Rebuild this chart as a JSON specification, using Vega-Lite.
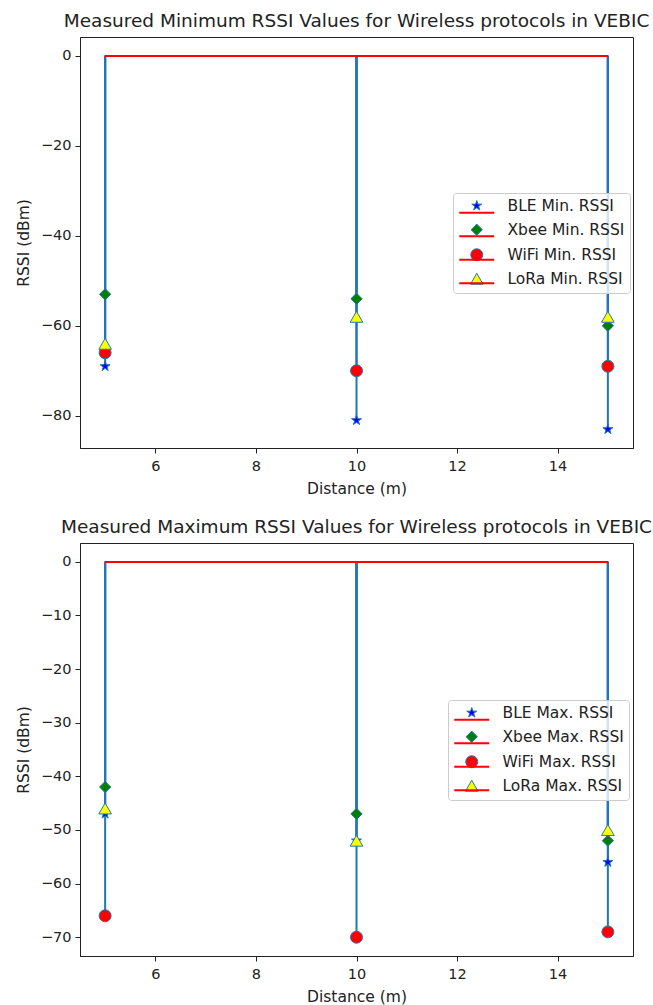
{
  "$schema": "https://vega.github.io/schema/vega-lite/v6.json",
  "padding": {"left": 15, "top": 11, "right": 5, "bottom": 0},
  "background": "white",
  "datasets": {
    "minv": [
      {"protocol": "BLE Min. RSSI", "distance": 5, "rssi": -69},
      {"protocol": "BLE Min. RSSI", "distance": 10, "rssi": -81},
      {"protocol": "BLE Min. RSSI", "distance": 15, "rssi": -83},
      {"protocol": "Xbee Min. RSSI", "distance": 5, "rssi": -53},
      {"protocol": "Xbee Min. RSSI", "distance": 10, "rssi": -54},
      {"protocol": "Xbee Min. RSSI", "distance": 15, "rssi": -60},
      {"protocol": "WiFi Min. RSSI", "distance": 5, "rssi": -66},
      {"protocol": "WiFi Min. RSSI", "distance": 10, "rssi": -70},
      {"protocol": "WiFi Min. RSSI", "distance": 15, "rssi": -69},
      {"protocol": "LoRa Min. RSSI", "distance": 5, "rssi": -64},
      {"protocol": "LoRa Min. RSSI", "distance": 10, "rssi": -58},
      {"protocol": "LoRa Min. RSSI", "distance": 15, "rssi": -58}
    ],
    "maxv": [
      {"protocol": "BLE Max. RSSI", "distance": 5, "rssi": -47},
      {"protocol": "BLE Max. RSSI", "distance": 10, "rssi": -52},
      {"protocol": "BLE Max. RSSI", "distance": 15, "rssi": -56},
      {"protocol": "Xbee Max. RSSI", "distance": 5, "rssi": -42},
      {"protocol": "Xbee Max. RSSI", "distance": 10, "rssi": -47},
      {"protocol": "Xbee Max. RSSI", "distance": 15, "rssi": -52},
      {"protocol": "WiFi Max. RSSI", "distance": 5, "rssi": -66},
      {"protocol": "WiFi Max. RSSI", "distance": 10, "rssi": -70},
      {"protocol": "WiFi Max. RSSI", "distance": 15, "rssi": -69},
      {"protocol": "LoRa Max. RSSI", "distance": 5, "rssi": -46},
      {"protocol": "LoRa Max. RSSI", "distance": 10, "rssi": -52},
      {"protocol": "LoRa Max. RSSI", "distance": 15, "rssi": -50}
    ]
  },
  "config": {
    "font": "DejaVu Sans",
    "view": {"stroke": "#222222", "strokeWidth": 1},
    "axis": {
      "grid": false,
      "domainColor": "#222222",
      "tickColor": "#222222",
      "labelColor": "#222222",
      "titleColor": "#222222",
      "labelFontSize": 14.5,
      "titleFontSize": 15.5,
      "titleFontWeight": "normal",
      "tickSize": 5,
      "labelPadding": 4
    },
    "axisY": {"titlePadding": 9},
    "axisX": {"titlePadding": 9, "labelPadding": 6},
    "title": {"fontSize": 18.5, "fontWeight": "normal", "color": "#222222", "offset": 7},
    "legend": {
      "orient": "none",
      "padding": 5,
      "labelFontSize": 15.5,
      "labelColor": "#222222",
      "rowPadding": 7,
      "title": null
    },
    "concat": {"spacing": 19}
  },
  "vconcat": [
    {
      "title": "Measured Minimum RSSI Values for Wireless protocols in VEBIC",
      "width": 553,
      "height": 411,
      "data": {"name": "minv"},
      "layer": [
        {
          "mark": {"type": "rule", "color": "#1f77b4", "strokeWidth": 2},
          "encoding": {
            "x": {"field": "distance", "type": "quantitative", "scale": {"domain": [4.5, 15.5], "nice": false, "zero": false},
                  "axis": {"values": [6, 8, 10, 12, 14], "title": "Distance (m)"}},
            "y": {"field": "rssi", "type": "quantitative", "scale": {"domain": [-87.15, 4.15], "nice": false, "zero": false},
                  "axis": {"values": [0, -20, -40, -60, -80], "title": "RSSI (dBm)"}},
            "y2": {"datum": 0}
          }
        },
        {
          "mark": {"type": "point", "filled": true, "stroke": "#1f77b4", "strokeWidth": 1, "opacity": 1},
          "encoding": {
            "x": {"field": "distance", "type": "quantitative"},
            "y": {"field": "rssi", "type": "quantitative"},
            "shape": {"field": "protocol", "type": "nominal",
                      "scale": {"domain": ["BLE Min. RSSI", "Xbee Min. RSSI", "WiFi Min. RSSI", "LoRa Min. RSSI"],
                                "range": ["M0,-1L0.2245,-0.309L0.951,-0.309L0.363,0.118L0.588,0.809L0,0.382L-0.588,0.809L-0.363,0.118L-0.951,-0.309L-0.2245,-0.309Z", "diamond", "circle", "triangle-up"]},
                      "legend": {"legendX": 373, "legendY": 156, "fillColor": "rgba(255,255,255,0.8)", "strokeColor": "#cccccc", "cornerRadius": 3, "symbolOffset": 11, "labelOffset": 23, "symbolStrokeColor": "#1f77b4", "symbolStrokeWidth": 1}},
            "fill": {"field": "protocol", "type": "nominal",
                     "scale": {"domain": ["BLE Min. RSSI", "Xbee Min. RSSI", "WiFi Min. RSSI", "LoRa Min. RSSI"],
                               "range": ["#0000ff", "#008000", "#ff0000", "#ffff00"]},
                     "legend": {"legendX": 373, "legendY": 156}},
            "size": {"field": "protocol", "type": "nominal",
                     "scale": {"domain": ["BLE Min. RSSI", "Xbee Min. RSSI", "WiFi Min. RSSI", "LoRa Min. RSSI"],
                               "range": [110, 160, 120, 105]},
                     "legend": {"legendX": 373, "legendY": 156}}
          }
        },
        {
          "mark": {"type": "rule", "strokeWidth": 1.5},
          "encoding": {
            "x": {"datum": 5, "type": "quantitative"},
            "x2": {"datum": 15},
            "y": {"datum": 0, "type": "quantitative"},
            "stroke": {"field": "protocol", "type": "nominal", "scale": {"range": ["#ff0000"]},
                       "legend": {"legendX": 373, "legendY": 163, "symbolType": "M-3,0H3", "symbolSize": 136, "symbolStrokeWidth": 2, "symbolOffset": 11, "rowPadding": 6.5, "labelExpr": "''", "fillColor": "transparent", "strokeColor": "transparent"}}
          }
        }
      ]
    },
    {
      "title": "Measured Maximum RSSI Values for Wireless protocols in VEBIC",
      "width": 553,
      "height": 413,
      "data": {"name": "maxv"},
      "layer": [
        {
          "mark": {"type": "rule", "color": "#1f77b4", "strokeWidth": 2},
          "encoding": {
            "x": {"field": "distance", "type": "quantitative", "scale": {"domain": [4.5, 15.5], "nice": false, "zero": false},
                  "axis": {"values": [6, 8, 10, 12, 14], "title": "Distance (m)"}},
            "y": {"field": "rssi", "type": "quantitative", "scale": {"domain": [-73.5, 3.5], "nice": false, "zero": false},
                  "axis": {"values": [0, -10, -20, -30, -40, -50, -60, -70], "title": "RSSI (dBm)"}},
            "y2": {"datum": 0}
          }
        },
        {
          "mark": {"type": "point", "filled": true, "stroke": "#1f77b4", "strokeWidth": 1, "opacity": 1},
          "encoding": {
            "x": {"field": "distance", "type": "quantitative"},
            "y": {"field": "rssi", "type": "quantitative"},
            "shape": {"field": "protocol", "type": "nominal",
                      "scale": {"domain": ["BLE Max. RSSI", "Xbee Max. RSSI", "WiFi Max. RSSI", "LoRa Max. RSSI"],
                                "range": ["M0,-1L0.2245,-0.309L0.951,-0.309L0.363,0.118L0.588,0.809L0,0.382L-0.588,0.809L-0.363,0.118L-0.951,-0.309L-0.2245,-0.309Z", "diamond", "circle", "triangle-up"]},
                      "legend": {"legendX": 368, "legendY": 157, "fillColor": "rgba(255,255,255,0.8)", "strokeColor": "#cccccc", "cornerRadius": 3, "symbolOffset": 11, "labelOffset": 23, "symbolStrokeColor": "#1f77b4", "symbolStrokeWidth": 1}},
            "fill": {"field": "protocol", "type": "nominal",
                     "scale": {"domain": ["BLE Max. RSSI", "Xbee Max. RSSI", "WiFi Max. RSSI", "LoRa Max. RSSI"],
                               "range": ["#0000ff", "#008000", "#ff0000", "#ffff00"]},
                     "legend": {"legendX": 368, "legendY": 157}},
            "size": {"field": "protocol", "type": "nominal",
                     "scale": {"domain": ["BLE Max. RSSI", "Xbee Max. RSSI", "WiFi Max. RSSI", "LoRa Max. RSSI"],
                               "range": [110, 160, 120, 105]},
                     "legend": {"legendX": 368, "legendY": 157}}
          }
        },
        {
          "mark": {"type": "rule", "strokeWidth": 1.5},
          "encoding": {
            "x": {"datum": 5, "type": "quantitative"},
            "x2": {"datum": 15},
            "y": {"datum": 0, "type": "quantitative"},
            "stroke": {"field": "protocol", "type": "nominal", "scale": {"range": ["#ff0000"]},
                       "legend": {"legendX": 368, "legendY": 164, "symbolType": "M-3,0H3", "symbolSize": 136, "symbolStrokeWidth": 2, "symbolOffset": 11, "rowPadding": 6.5, "labelExpr": "''", "fillColor": "transparent", "strokeColor": "transparent"}}
          }
        }
      ]
    }
  ],
  "resolve": {"scale": {"shape": "independent", "fill": "independent", "size": "independent", "stroke": "independent"}, "legend": {"shape": "independent", "fill": "independent", "size": "independent", "stroke": "independent"}}
}
